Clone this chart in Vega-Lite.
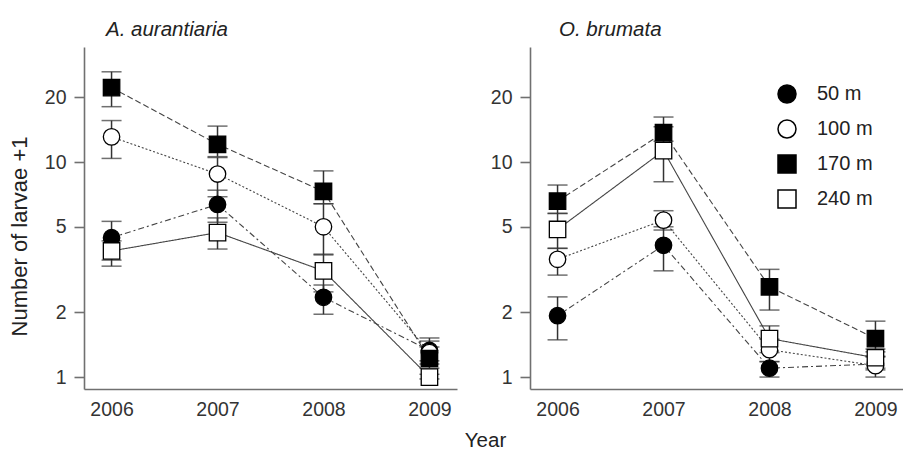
{
  "$schema": "https://vega.github.io/schema/vega-lite/v6.json",
  "padding": {"left": 8, "top": 19, "right": 0, "bottom": 0},
  "spacing": 73,
  "bounds": "flush",
  "config": {
    "view": {"stroke": null},
    "font": "Liberation Sans",
    "axis": {
      "grid": false,
      "domainColor": "#707070",
      "domainWidth": 1.6,
      "tickColor": "#707070",
      "tickWidth": 1.6,
      "labelColor": "#333333",
      "labelFont": "Liberation Sans",
      "labelFontSize": 19.5,
      "titleFont": "Liberation Sans",
      "titleColor": "#222222",
      "titleFontWeight": "normal"
    },
    "title": {
      "font": "Liberation Sans",
      "fontSize": 20.5,
      "fontStyle": "italic",
      "fontWeight": "normal",
      "color": "#222222",
      "anchor": "start",
      "frame": "group",
      "offset": 7
    }
  },
  "datasets": {
    "larvae": [
      {"sp": "A. aurantiaria", "d": "50 m", "yr": 2006, "n": 4.45, "lo": 3.5, "hi": 5.3},
      {"sp": "A. aurantiaria", "d": "50 m", "yr": 2007, "n": 6.35, "lo": 5.25, "hi": 7.4},
      {"sp": "A. aurantiaria", "d": "50 m", "yr": 2008, "n": 2.35, "lo": 1.96, "hi": 2.68},
      {"sp": "A. aurantiaria", "d": "50 m", "yr": 2009, "n": 1.33, "lo": 1.19, "hi": 1.47},
      {"sp": "A. aurantiaria", "d": "100 m", "yr": 2006, "n": 13.1, "lo": 10.4, "hi": 15.6},
      {"sp": "A. aurantiaria", "d": "100 m", "yr": 2007, "n": 8.8, "lo": 6.9, "hi": 10.5},
      {"sp": "A. aurantiaria", "d": "100 m", "yr": 2008, "n": 5.0, "lo": 3.7, "hi": 6.4},
      {"sp": "A. aurantiaria", "d": "100 m", "yr": 2009, "n": 1.3, "lo": 1.15, "hi": 1.38},
      {"sp": "A. aurantiaria", "d": "170 m", "yr": 2006, "n": 22.2, "lo": 18.1, "hi": 26.3},
      {"sp": "A. aurantiaria", "d": "170 m", "yr": 2007, "n": 12.1, "lo": 10.6, "hi": 14.7},
      {"sp": "A. aurantiaria", "d": "170 m", "yr": 2008, "n": 7.3, "lo": 6.4, "hi": 9.1},
      {"sp": "A. aurantiaria", "d": "170 m", "yr": 2009, "n": 1.22, "lo": 1.1, "hi": 1.52},
      {"sp": "A. aurantiaria", "d": "240 m", "yr": 2006, "n": 3.86, "lo": 3.28, "hi": 4.3},
      {"sp": "A. aurantiaria", "d": "240 m", "yr": 2007, "n": 4.7, "lo": 3.94, "hi": 5.5},
      {"sp": "A. aurantiaria", "d": "240 m", "yr": 2008, "n": 3.12, "lo": 2.49, "hi": 3.73},
      {"sp": "A. aurantiaria", "d": "240 m", "yr": 2009, "n": 1.0, "lo": 0.98, "hi": 1.03},
      {"sp": "O. brumata", "d": "50 m", "yr": 2006, "n": 1.93, "lo": 1.49, "hi": 2.36},
      {"sp": "O. brumata", "d": "50 m", "yr": 2007, "n": 4.1, "lo": 3.12, "hi": 5.0},
      {"sp": "O. brumata", "d": "50 m", "yr": 2008, "n": 1.1, "lo": 1.0, "hi": 1.18},
      {"sp": "O. brumata", "d": "50 m", "yr": 2009, "n": 1.15, "lo": 1.08, "hi": 1.24},
      {"sp": "O. brumata", "d": "100 m", "yr": 2006, "n": 3.53, "lo": 2.98, "hi": 3.97},
      {"sp": "O. brumata", "d": "100 m", "yr": 2007, "n": 5.37, "lo": 4.83, "hi": 5.94},
      {"sp": "O. brumata", "d": "100 m", "yr": 2008, "n": 1.34, "lo": 1.18, "hi": 1.5},
      {"sp": "O. brumata", "d": "100 m", "yr": 2009, "n": 1.13, "lo": 1.0, "hi": 1.25},
      {"sp": "O. brumata", "d": "170 m", "yr": 2006, "n": 6.58, "lo": 5.77, "hi": 7.82},
      {"sp": "O. brumata", "d": "170 m", "yr": 2007, "n": 13.7, "lo": 12.5, "hi": 16.2},
      {"sp": "O. brumata", "d": "170 m", "yr": 2008, "n": 2.63, "lo": 2.05, "hi": 3.17},
      {"sp": "O. brumata", "d": "170 m", "yr": 2009, "n": 1.51, "lo": 1.35, "hi": 1.82},
      {"sp": "O. brumata", "d": "240 m", "yr": 2006, "n": 4.86, "lo": 3.97, "hi": 5.77},
      {"sp": "O. brumata", "d": "240 m", "yr": 2007, "n": 11.3, "lo": 8.1, "hi": 14.6},
      {"sp": "O. brumata", "d": "240 m", "yr": 2008, "n": 1.51, "lo": 1.3, "hi": 1.73},
      {"sp": "O. brumata", "d": "240 m", "yr": 2009, "n": 1.23, "lo": 1.1, "hi": 1.31}
    ]
  },
  "resolve": {"legend": {"shape": "independent", "fill": "independent"}},
  "hconcat": [
    {
      "width": 373,
      "height": 342,
      "title": {"text": "A. aurantiaria", "dx": 22},
      "data": {"name": "larvae"},
      "transform": [{"filter": "datum.sp === 'A. aurantiaria'"}],
      "encoding": {
        "x": {
          "field": "yr", "type": "quantitative",
          "scale": {"domain": [2005.74, 2009.26], "nice": false, "zero": false},
          "axis": {
            "values": [2006, 2007, 2008, 2009], "format": "d", "ticks": false, "labelPadding": 11,
            "title": "Year", "titleFontSize": 20.5, "titleX": 401, "titleY": 57,
            "titleBaseline": "alphabetic", "titleAlign": "center"
          }
        },
        "y": {
          "field": "n", "type": "quantitative",
          "scale": {"type": "log", "domain": [0.88, 34.3], "nice": false},
          "axis": {
            "values": [1, 2, 5, 10, 20], "format": "d", "tickSize": 10, "labelPadding": 8,
            "title": "Number of larvae +1", "titleFontSize": 22, "titleAngle": -90,
            "titleX": -58, "titleY": 189, "titleBaseline": "alphabetic", "titleAlign": "center"
          }
        }
      },
      "layer": [
        {
          "mark": {"type": "line", "color": "#444444", "strokeWidth": 1.1},
          "encoding": {
            "strokeDash": {
              "field": "d", "type": "nominal", "legend": null,
              "scale": {"domain": ["50 m", "100 m", "170 m", "240 m"], "range": [[6, 3, 2, 3], [2, 2], [6, 3], [1, 0]]}
            }
          }
        },
        {
          "mark": {"type": "rule", "color": "#333333", "strokeWidth": 1.5},
          "encoding": {"y": {"field": "lo", "type": "quantitative"}, "y2": {"field": "hi"}, "detail": {"field": "d"}}
        },
        {
          "mark": {"type": "tick", "orient": "horizontal", "size": 20, "thickness": 1.5, "color": "#333333"},
          "encoding": {"y": {"field": "lo", "type": "quantitative"}}
        },
        {
          "mark": {"type": "tick", "orient": "horizontal", "size": 20, "thickness": 1.5, "color": "#333333"},
          "encoding": {"y": {"field": "hi", "type": "quantitative"}}
        },
        {
          "mark": {"type": "point", "filled": true, "stroke": "black", "strokeWidth": 1.3, "size": 270, "opacity": 1},
          "encoding": {
            "shape": {"field": "d", "type": "nominal", "legend": null,
              "scale": {"domain": ["50 m", "100 m", "170 m", "240 m"], "range": ["circle", "circle", "square", "square"]}},
            "fill": {"field": "d", "type": "nominal", "legend": null,
              "scale": {"domain": ["50 m", "100 m", "170 m", "240 m"], "range": ["black", "white", "black", "white"]}}
          }
        }
      ]
    },
    {
      "width": 373,
      "height": 342,
      "title": {"text": "O. brumata", "dx": 29},
      "data": {"name": "larvae"},
      "transform": [{"filter": "datum.sp === 'O. brumata'"}],
      "encoding": {
        "x": {
          "field": "yr", "type": "quantitative",
          "scale": {"domain": [2005.74, 2009.26], "nice": false, "zero": false},
          "axis": {"values": [2006, 2007, 2008, 2009], "format": "d", "ticks": false, "labelPadding": 11, "title": null}
        },
        "y": {
          "field": "n", "type": "quantitative",
          "scale": {"type": "log", "domain": [0.88, 34.3], "nice": false},
          "axis": {"values": [1, 2, 5, 10, 20], "format": "d", "tickSize": 10, "labelPadding": 8, "title": null}
        }
      },
      "layer": [
        {
          "mark": {"type": "line", "color": "#444444", "strokeWidth": 1.1},
          "encoding": {
            "strokeDash": {
              "field": "d", "type": "nominal", "legend": null,
              "scale": {"domain": ["50 m", "100 m", "170 m", "240 m"], "range": [[6, 3, 2, 3], [2, 2], [6, 3], [1, 0]]}
            }
          }
        },
        {
          "mark": {"type": "rule", "color": "#333333", "strokeWidth": 1.5},
          "encoding": {"y": {"field": "lo", "type": "quantitative"}, "y2": {"field": "hi"}, "detail": {"field": "d"}}
        },
        {
          "mark": {"type": "tick", "orient": "horizontal", "size": 20, "thickness": 1.5, "color": "#333333"},
          "encoding": {"y": {"field": "lo", "type": "quantitative"}}
        },
        {
          "mark": {"type": "tick", "orient": "horizontal", "size": 20, "thickness": 1.5, "color": "#333333"},
          "encoding": {"y": {"field": "hi", "type": "quantitative"}}
        },
        {
          "mark": {"type": "point", "filled": true, "stroke": "black", "strokeWidth": 1.3, "size": 270, "opacity": 1},
          "encoding": {
            "shape": {"field": "d", "type": "nominal",
              "scale": {"domain": ["50 m", "100 m", "170 m", "240 m"], "range": ["circle", "circle", "square", "square"]},
              "legend": {
                "title": null, "orient": "none", "legendX": 247, "legendY": 37, "padding": 0,
                "symbolSize": 324, "labelFont": "Liberation Sans", "labelFontSize": 20, "labelColor": "#222222",
                "labelOffset": 20, "rowPadding": 11,
                "encode": {"symbols": {"update": {"stroke": {"value": "black"}, "strokeWidth": {"value": 1.3}}}}
              }},
            "fill": {"field": "d", "type": "nominal",
              "scale": {"domain": ["50 m", "100 m", "170 m", "240 m"], "range": ["black", "white", "black", "white"]},
              "legend": {
                "title": null, "orient": "none", "legendX": 247, "legendY": 37, "padding": 0,
                "symbolSize": 324, "labelFont": "Liberation Sans", "labelFontSize": 20, "labelColor": "#222222",
                "labelOffset": 20, "rowPadding": 11,
                "encode": {"symbols": {"update": {"stroke": {"value": "black"}, "strokeWidth": {"value": 1.3}}}}
              }}
          }
        }
      ]
    }
  ]
}
